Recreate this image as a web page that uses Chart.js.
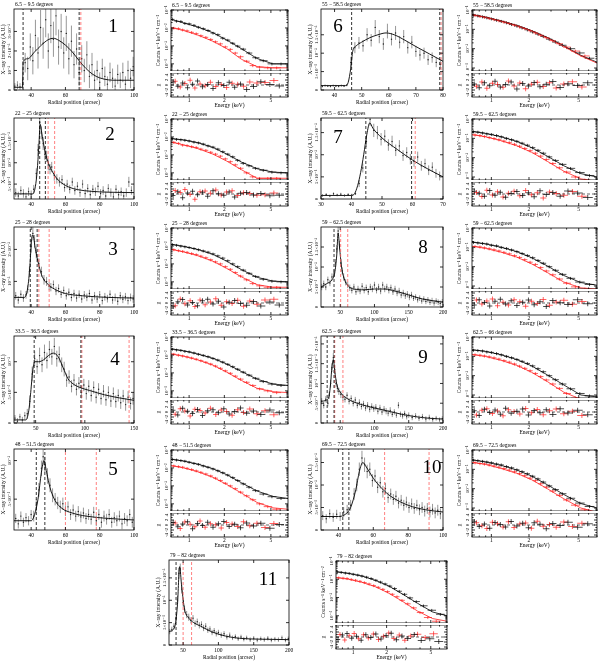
<!DOCTYPE html>
<html>
<head>
<meta charset="utf-8">
<script src="https://cdn.jsdelivr.net/npm/chart.js@4.4.1/dist/chart.umd.min.js"></script>
<style>
  html, body { margin: 0; padding: 0; background: #fff; }
  body { width: 598px; height: 665px; position: relative; overflow: hidden; }
  canvas { position: absolute; }
</style>
</head>
<body>
<script>
// ---------- titles ----------
const titles = ["6.5 − 9.5 degrees", "22 − 25 degrees", "25 − 28 degrees", "33.5 − 36.5 degrees",
  "48 − 51.5 degrees", "55 − 58.5 degrees", "59.5 − 62.5 degrees", "59 − 62.5 degrees",
  "62.5 − 66 degrees", "69.5 − 72.5 degrees", "79 − 82 degrees"];

// ---------- radial profiles: [radius arcsec, intensity (1e-3 A.U.), error] ----------
const prof1 = [[30.5,.2,.15],[32,.25,.2],[33.5,.15,.2],[35,.3,.25],[36.5,1.4,.5],[38,1.1,.6],[39.5,2.2,.7],[41,1.5,.7],[42.5,2.8,.8],[44,1.9,.8],[45.5,3.2,.9],[47,2.4,.8],[48.5,3.6,.9],[50,2.0,.9],[51.5,3.3,.9],[53,2.6,.9],[54.5,3.8,1.0],[56,2.2,.9],[57.5,3.0,.9],[59,1.9,.8],[60.5,2.9,.9],[62,1.6,.8],[63.5,2.5,.8],[65,1.3,.7],[66.5,2.1,.8],[68,.9,.7],[69.5,1.6,.7],[71,1.0,.6],[72.5,1.8,.7],[74,.7,.6],[75.5,1.3,.6],[77,.5,.5],[78.5,1.0,.5],[80,.4,.5],[81.5,1.1,.5],[83,.7,.5],[84.5,.3,.4],[86,.9,.5],[87.5,.6,.5],[89,.2,.4],[90.5,.8,.5],[92,.5,.4],[93.5,.9,.5],[95,.3,.4],[96.5,1.0,.5],[98,.6,.5],[99.5,1.2,.5]];
const fit1 = [[30,.14],[35,.14],[35.3,1.45],[38,1.6],[42,1.95],[46,2.3],[50,2.58],[53,2.65],[56,2.55],[60,2.3],[64,1.95],[68,1.5],[72,1.1],[76,.8],[80,.62],[85,.52],[90,.5],[100,.5]];
const prof2 = [[31,.3,.1],[32.5,.22,.1],[34,.35,.1],[35.5,.28,.1],[37,.2,.1],[38.5,.32,.1],[40,.25,.1],[41.5,.38,.1],[43,.75,.12],[44,1.3,.14],[45,1.95,.16],[46,1.7,.15],[47,1.45,.15],[48,1.2,.14],[49,1.15,.13],[50,.95,.13],[51,.85,.12],[52,.9,.12],[53.5,.7,.12],[55,.62,.11],[56.5,.55,.11],[58,.6,.11],[59.5,.42,.1],[61,.5,.1],[62.5,.38,.1],[64,.55,.1],[65.5,.35,.1],[67,.45,.1],[68.5,.3,.1],[70,.5,.1],[71.5,.28,.1],[73,.4,.1],[74.5,.25,.1],[76,.38,.1],[77.5,.32,.1],[79,.45,.1],[80.5,.28,.1],[82,.35,.1],[83.5,.22,.1],[85,.4,.1],[86.5,.3,.1],[88,.2,.1],[89.5,.38,.1],[91,.25,.1],[92.5,.32,.1],[94,.22,.1],[95.5,.3,.1],[97,.55,.12],[98.5,.35,.1]];
const fit2 = [[30,.27],[41,.27],[42.5,.45],[43.5,.8],[44.5,1.4],[45.3,1.9],[46,1.75],[47,1.5],[48.5,1.2],[50,1.0],[52,.82],[55,.63],[58,.52],[62,.43],[67,.37],[75,.33],[85,.31],[100,.3]];
const prof3 = [[31,.55,.12],[32.5,.42,.12],[34,.6,.12],[35.5,.48,.12],[37,.58,.12],[38,.75,.13],[39,1.3,.16],[40,2.1,.2],[41,2.5,.22],[42,2.25,.2],[43,1.9,.18],[44.5,1.55,.17],[46,1.3,.16],[47.5,1.05,.15],[49,1.0,.14],[50.5,.85,.13],[51.5,.82,.13],[53,.9,.13],[54.5,.7,.13],[56,.78,.13],[57.5,.6,.12],[59,.72,.12],[60.5,.55,.12],[62,.66,.12],[63.5,.5,.12],[65,.62,.12],[66.5,.48,.12],[68,.6,.12],[69.5,.45,.12],[71,.58,.12],[72.5,.5,.12],[74,.62,.12],[75.5,.42,.12],[77,.55,.12],[78.5,.45,.12],[80,.58,.12],[81.5,.4,.12],[83,.52,.12],[84.5,.46,.12],[86,.6,.12],[87.5,.42,.12],[89,.5,.12],[90.5,.38,.12],[92,.55,.12],[93.5,.44,.12],[95,.52,.12],[96.5,.4,.12],[98,.5,.12],[99.5,.45,.12]];
const fit3 = [[30,.5],[36,.5],[38,.8],[39.3,1.5],[40.2,2.3],[41,2.45],[42.5,2.0],[44.5,1.5],[46.5,1.15],[50,.9],[55,.72],[60,.62],[70,.55],[85,.5],[100,.48]];
const prof4 = [[29,.08,.05],[31.5,.03,.05],[34,.1,.05],[36.5,.05,.05],[39,.12,.06],[41.5,.15,.08],[44,.35,.1],[46.5,.8,.12],[49,1.05,.12],[51.5,.92,.12],[54,1.1,.13],[56.5,.95,.12],[59,1.15,.13],[61.5,1.02,.13],[64,1.2,.14],[66.5,1.08,.13],[69,1.25,.14],[71.5,1.05,.13],[74,1.12,.13],[76.5,.95,.12],[79,.88,.12],[81.5,.7,.11],[84,.75,.11],[86.5,.6,.1],[89,.7,.1],[91.5,.55,.1],[94,.65,.1],[96.5,.5,.1],[99,.62,.1],[101.5,.48,.1],[104,.6,.1],[106.5,.45,.1],[109,.58,.1],[111.5,.42,.1],[114,.55,.1],[116.5,.4,.1],[119,.52,.1],[121.5,.38,.1],[124,.5,.1],[126.5,.36,.1],[129,.48,.1],[131.5,.35,.1],[134,.45,.1],[136.5,.33,.1],[139,.44,.1],[141.5,.3,.1],[144,.42,.1],[146.5,.32,.1],[149,.4,.1]];
const fit4 = [[28,.05],[40,.05],[43,.2],[45,.5],[47,.85],[49,1.0],[53,1.0],[58,1.03],[63,1.1],[68,1.14],[73,1.08],[78,.9],[83,.72],[88,.64],[95,.58],[105,.53],[120,.46],[135,.41],[150,.37]];
const prof5 = [[31,.25,.06],[32.5,.18,.06],[34,.28,.06],[35.5,.2,.06],[37,.26,.06],[38.5,.22,.06],[40,.3,.06],[41.5,.28,.07],[43,.42,.08],[44.5,.62,.09],[46,.9,.1],[47,1.05,.11],[48,.95,.1],[49.5,.8,.1],[51,.68,.09],[52.5,.55,.09],[54,.5,.08],[55.5,.45,.08],[57,.4,.08],[58.5,.44,.08],[60,.35,.07],[61.5,.4,.07],[63,.3,.07],[64.5,.36,.07],[66,.28,.07],[67.5,.34,.07],[69,.27,.07],[70.5,.32,.07],[72,.25,.07],[73.5,.3,.07],[75,.24,.07],[76.5,.33,.07],[78,.22,.07],[79.5,.3,.07],[81,.2,.07],[82.5,.28,.07],[84,.24,.07],[85.5,.3,.07],[87,.2,.07],[88.5,.26,.07],[90,.22,.07],[91.5,.28,.07],[93,.18,.07],[94.5,.25,.07],[96,.22,.07],[97.5,.3,.07],[99,.2,.07]];
const fit5 = [[30,.22],[40,.22],[42,.3],[44,.5],[46,.85],[47.5,1.0],[49,.85],[51,.65],[54,.48],[58,.38],[64,.32],[72,.28],[85,.25],[100,.23]];
const prof6 = [[35.5,.1,.03],[36.5,.12,.03],[37.5,.11,.03],[38.5,.1,.03],[39.5,.12,.03],[40.5,.11,.03],[41.5,.1,.03],[42.5,.12,.03],[43.5,.11,.03],[44.5,.13,.03],[46,.75,.15],[47.5,1.15,.15],[49,1.28,.16],[50.5,1.2,.16],[52,1.5,.18],[53.5,1.35,.17],[55,1.7,.2],[56.5,1.45,.18],[58,1.25,.16],[59.5,1.6,.2],[61,1.38,.17],[62.5,1.55,.19],[64,1.3,.17],[65.5,1.45,.18],[67,1.15,.16],[68.5,1.3,.17],[70,1.05,.15],[71.5,.95,.15],[73,1.0,.15],[74.5,.82,.14],[76,.88,.14],[77.5,.75,.13],[79,.7,.13]];
const fit6 = [[35,.12],[44,.12],[45,.2],[46,.6],[46.7,1.05],[48,1.2],[50,1.3],[53,1.42],[56,1.5],[59,1.55],[62,1.5],[66,1.35],[70,1.18],[75,.98],[80,.78]];
const prof7 = [[30.5,.08,.03],[31.7,.1,.03],[32.9,.07,.03],[34.1,.12,.03],[35.3,.09,.03],[36.5,.11,.03],[37.7,.08,.03],[38.9,.1,.03],[40.1,.09,.03],[41.3,.12,.03],[42.5,.35,.08],[43.7,.7,.1],[44.9,1.3,.12],[46.1,1.8,.15],[47.3,1.55,.15],[48.5,1.5,.15],[49.7,1.35,.14],[50.9,1.42,.14],[52.1,1.22,.13],[53.3,1.3,.13],[54.5,1.1,.13],[55.7,1.2,.13],[56.9,.98,.12],[58.1,1.05,.12],[59.3,.9,.12],[60.5,.85,.12],[61.7,.95,.12],[62.9,.75,.11],[64.1,.8,.11],[65.3,.65,.11],[66.5,.72,.11],[67.7,.58,.1],[68.9,.52,.1]];
const fit7 = [[30,.08],[40,.08],[41,.12],[42,.3],[43,.6],[44,1.0],[45,1.45],[46,1.72],[47,1.6],[50,1.38],[55,1.12],[60,.88],[65,.68],[70,.5]];
const prof8 = [[23,.5,.08],[26,.58,.08],[29,.5,.08],[32,.68,.08],[35,.6,.08],[38,.75,.09],[41,.85,.09],[43,1.1,.1],[45,1.45,.1],[47,1.9,.12],[49,1.55,.11],[51,1.1,.1],[53,.9,.09],[55,.75,.09],[58,.62,.08],[61,.55,.08],[64,.48,.08],[67,.42,.08],[70,.5,.08],[73,.38,.08],[76,.45,.08],[79,.4,.08],[82,.52,.08],[85,.42,.08],[88,.48,.08],[91,.38,.08],[94,.5,.08],[97,.45,.08],[100,.55,.08],[103,.42,.08],[106,.5,.08],[109,.4,.08],[112,.55,.08],[115,.45,.08],[118,.5,.08],[121,.42,.08],[124,.48,.08],[127,.38,.08],[130,.45,.08],[133,.35,.08],[136,.4,.08],[139,.3,.08],[142,.35,.08],[145,.28,.08],[148,.32,.08],[151,.25,.08],[154,.3,.08],[157,.22,.07],[160,.25,.07],[163,.18,.07],[166,.22,.07],[169,.15,.07],[172,.2,.07],[175,.14,.07],[178,.18,.07],[181,.12,.07],[184,.16,.07],[187,.1,.07],[190,.15,.07],[193,.12,.07],[196,.09,.07],[199,.13,.07]];
const fit8 = [[22,.5],[30,.58],[38,.68],[42,.85],[45,1.3],[47,1.85],[49,1.5],[52,1.0],[56,.7],[62,.52],[70,.45],[85,.43],[100,.45],[115,.45],[130,.4],[150,.3],[170,.2],[200,.12]];
const prof9 = [[23,.55,.08],[26,.45,.08],[29,.6,.08],[32,.5,.08],[34,.7,.09],[36,1.0,.1],[38,1.4,.11],[40,1.65,.12],[42,1.35,.11],[44,1.0,.1],[46,.88,.1],[48,.8,.09],[51,.72,.09],[54,.65,.09],[57,.6,.08],[60,.7,.08],[63,.55,.08],[66,.62,.08],[69,.5,.08],[72,.58,.08],[75,.45,.08],[78,.52,.08],[81,.42,.08],[84,.48,.08],[87,.38,.08],[90,.45,.08],[93,.35,.08],[96,.42,.08],[99,.36,.08],[102,.4,.08],[105,.3,.08],[108,.38,.08],[111,.28,.08],[114,.35,.08],[117,.3,.08],[120,.25,.08],[123,.32,.08],[126,.22,.07],[129,.28,.07],[132,.2,.07],[135,.45,.08],[138,.22,.07],[141,.18,.07],[144,.24,.07],[147,.16,.07],[150,.2,.07],[155,.14,.07],[160,.18,.07],[165,.12,.07],[170,.16,.07],[175,.1,.07],[180,.14,.07],[185,.09,.06],[190,.12,.06],[195,.08,.06],[199,.11,.06]];
const fit9 = [[22,.55],[30,.58],[34,.7],[36,1.0],[38,1.42],[40,1.6],[42,1.32],[45,.98],[50,.78],[60,.62],[80,.47],[100,.38],[120,.3],[140,.22],[160,.16],[180,.12],[200,.1]];
const prof10 = [[31,.32,.1],[33,.25,.1],[35,.36,.1],[37,.28,.1],[39,.35,.1],[41,.3,.1],[43,.4,.11],[45,.45,.11],[47,.55,.12],[49,.8,.13],[50.5,1.0,.14],[52,1.35,.15],[53.5,1.6,.16],[55,1.45,.16],[56.5,1.3,.15],[58,1.35,.15],[59.5,1.1,.14],[61,1.2,.14],[62.5,.95,.13],[64,1.05,.13],[65.5,.85,.13],[67,.92,.13],[68.5,.72,.12],[70,.8,.12],[71.5,.68,.12],[73,.75,.12],[74.5,.6,.12],[76,.66,.12],[77.5,.55,.12],[79,.62,.12],[80.5,.5,.12],[82,.58,.12],[83.5,.48,.12],[85,.55,.12],[86.5,.45,.12],[88,.5,.12],[89.5,.42,.12],[91,.48,.12],[92.5,.4,.12],[94,.46,.12],[95.5,.38,.12],[97,.44,.12],[98.5,.36,.12]];
const fit10 = [[30,.3],[40,.3],[44,.35],[47,.5],[50,.9],[52,1.3],[54,1.5],[56,1.4],[60,1.15],[65,.92],[70,.75],[80,.55],[90,.45],[100,.4]];
const prof11 = [[31,.3,.06],[34,.35,.06],[37,.42,.07],[40,.6,.08],[42,1.0,.1],[44,1.6,.12],[46,1.7,.12],[48,1.25,.1],[50,.95,.09],[52,.8,.08],[55,.68,.08],[58,.62,.08],[61,.55,.07],[64,.6,.07],[67,.48,.07],[70,.52,.07],[73,.44,.07],[76,.46,.07],[79,.38,.07],[82,.42,.07],[85,.33,.06],[88,.36,.06],[91,.28,.06],[94,.32,.06],[97,.25,.06],[100,.28,.06],[104,.22,.06],[108,.25,.06],[112,.18,.06],[116,.22,.06],[120,.16,.05],[124,.19,.05],[128,.14,.05],[132,.18,.05],[136,.13,.05],[140,.16,.05],[145,.12,.05],[150,.15,.05],[155,.11,.05],[160,.14,.05],[165,.12,.05],[170,.15,.05],[175,.11,.05],[180,.13,.05],[185,.12,.05],[190,.16,.05],[195,.11,.05],[199,.14,.05]];
const fit11 = [[30,.3],[38,.4],[42,.9],[45,1.75],[48,1.3],[52,.8],[58,.6],[65,.5],[75,.42],[90,.3],[110,.2],[130,.15],[160,.13],[200,.12]];

// dashed region boundaries (arcsec)
const vlBlack = [[35.3,68],[45,48.3],[39.5,43.5],[48.5,96],[43,48],[46.3,78.8],[44.7,59.7],[41],[31,41],[42.5,46],[40]];
const vlRed   = [[69],[49.9,53.7],[44.5,50.5],[97,145],[60,78],[79.3],[60.9],[50.7,61],[42,54],[66.5,92],[50,62]];

// profile axis ticks (values in 1e-3 A.U.)
const profYTicks = [[0,1,2,3],[0.5,1,1.5],[1,2],[0,0.5,1],[0.5,1],[0,0.5,1,1.5],[0,0.5,1,1.5],[0,0.5,1,1.5],[0,0.5,1,1.5,2],[0,0.5,1,1.5],[0,0.5,1,1.5]];
const profYLabels = {0:"0",0.5:"5×10⁻⁴",1:"10⁻³",1.5:"1.5×10⁻³",2:"2×10⁻³",3:"3×10⁻³"};
const profXTicks = [[40,60,80,100],[40,60,80,100],[40,60,80,100],[50,100,150],[40,60,80,100],[40,50,60,70,80],[30,40,50,60,70],[50,100,150,200],[50,100,150,200],[40,60,80,100],[50,100,150,200]];

// ---------- spectra ----------
const specEB = [0.72,0.78,0.85,0.92,1.0,1.1,1.2,1.32,1.45,1.6,1.76,1.94,2.14,2.36,2.6,2.9,3.25,3.7,4.3,5.1,6.1];
const specER = [0.74,0.81,0.88,0.96,1.05,1.15,1.26,1.39,1.53,1.68,1.85,2.04,2.25,2.48,2.75,3.1,3.5,4.0,4.7,5.6];
const modE = [0.7,0.9,1.2,1.6,2.1,2.8,3.8,5.2,7.0];

const specB = [
  [0.030,0.024,0.023,0.018,0.017,0.014,0.011,0.0091,0.0072,0.0052,0.0042,0.0027,0.0021,0.0014,0.00097,0.00066,0.0004,0.00022,0.00015,0.0001,0.0001],
  [0.008,0.0074,0.007,0.0066,0.006,0.0052,0.0047,0.004,0.0032,0.0027,0.0021,0.0015,0.0011,0.00078,0.0005,0.00034,0.00025,0.00018,0.00014,0.00011,0.0001],
  [0.012,0.011,0.0098,0.009,0.0082,0.0072,0.0062,0.0053,0.0045,0.0036,0.0028,0.0021,0.0015,0.001,0.0007,0.00045,0.0003,0.0002,0.00014,0.00011,0.0001],
  [0.021,0.019,0.018,0.016,0.015,0.013,0.011,0.0095,0.008,0.0064,0.0052,0.004,0.003,0.0022,0.0016,0.0011,0.00075,0.0005,0.00033,0.00024,0.0002],
  [0.03,0.028,0.026,0.024,0.021,0.018,0.016,0.013,0.011,0.0088,0.007,0.0054,0.004,0.0029,0.002,0.0013,0.00085,0.00055,0.00035,0.00025,0.0002],
  [0.055,0.05,0.045,0.04,0.035,0.03,0.026,0.022,0.018,0.015,0.012,0.0095,0.0074,0.0057,0.0043,0.0031,0.0022,0.0015,0.001,0.0006,0.00032],
  [0.022,0.021,0.019,0.017,0.016,0.014,0.012,0.01,0.0085,0.007,0.0056,0.0044,0.0033,0.0024,0.0017,0.0011,0.00072,0.00045,0.00028,0.00017,0.00012],
  [0.018,0.017,0.016,0.015,0.013,0.012,0.01,0.0088,0.0074,0.006,0.0048,0.0038,0.0029,0.0021,0.0015,0.001,0.00065,0.0004,0.00025,0.00016,0.00012],
  [0.021,0.02,0.019,0.017,0.016,0.014,0.012,0.01,0.0085,0.0069,0.0055,0.0043,0.0032,0.0023,0.0016,0.001,0.00062,0.00037,0.00021,0.00012,0.00009],
  [0.03,0.028,0.026,0.024,0.022,0.019,0.017,0.014,0.012,0.0095,0.0076,0.0059,0.0044,0.0032,0.0022,0.0014,0.0009,0.00055,0.00032,0.00018,0.00012],
  [0.025,0.024,0.022,0.021,0.019,0.017,0.015,0.013,0.011,0.0088,0.007,0.0055,0.0042,0.0031,0.0022,0.0015,0.00095,0.0006,0.00035,0.0002,0.00012]
];
const specR = [
  [0.0098,0.0092,0.0078,0.0069,0.0057,0.0048,0.0037,0.003,0.0023,0.0017,0.0013,0.00088,0.00064,0.0004,0.00025,0.00014,0.00008,0.000065,0.00006,0.00006],
  [0.005,0.0044,0.0035,0.0033,0.0029,0.0026,0.0021,0.0018,0.0014,0.0011,0.00085,0.0006,0.00042,0.00028,0.00018,0.0001,0.00006,0.00005,0.00005,0.00005],
  [0.0062,0.0055,0.005,0.0044,0.0038,0.0033,0.0027,0.0022,0.0017,0.0013,0.001,0.0007,0.0005,0.00033,0.00021,0.00013,0.00008,0.00006,0.00005,0.00005],
  [0.011,0.0098,0.0088,0.0078,0.0068,0.0058,0.0048,0.0039,0.0031,0.0024,0.0018,0.0013,0.00095,0.00066,0.00045,0.0003,0.0002,0.00013,0.0001,0.00008],
  [0.013,0.012,0.011,0.0095,0.0082,0.0069,0.0057,0.0046,0.0036,0.0027,0.002,0.0014,0.001,0.0007,0.00045,0.00028,0.00017,0.0001,0.00007,0.00005],
  [0.053,0.047,0.042,0.037,0.032,0.028,0.024,0.02,0.0165,0.0135,0.011,0.0085,0.0066,0.005,0.0037,0.0026,0.0018,0.0012,0.00075,0.00042],
  [0.015,0.014,0.0125,0.011,0.0098,0.0085,0.0072,0.006,0.0049,0.0039,0.003,0.0023,0.0017,0.0012,0.0008,0.0005,0.0003,0.00018,0.0001,0.00007],
  [0.011,0.0105,0.0095,0.0085,0.0075,0.0065,0.0055,0.0046,0.0037,0.003,0.0023,0.0017,0.0013,0.0009,0.0006,0.00038,0.00023,0.00014,0.00009,0.00007],
  [0.012,0.0115,0.0105,0.0095,0.0084,0.0072,0.006,0.005,0.004,0.0031,0.0024,0.0018,0.0013,0.0009,0.0006,0.00037,0.00022,0.00012,0.00007,0.00005],
  [0.022,0.02,0.019,0.017,0.015,0.013,0.011,0.0092,0.0075,0.006,0.0047,0.0035,0.0026,0.0018,0.0012,0.00075,0.00045,0.00026,0.00014,0.00008],
  [0.012,0.0115,0.011,0.0098,0.0088,0.0077,0.0066,0.0055,0.0045,0.0036,0.0028,0.0021,0.0015,0.0011,0.0007,0.00045,0.00027,0.00015,0.00008,0.00005]
];
const modB = [
  [.03,.019,.011,.0054,.0021,.0007,.0002,.0001,.0001],
  [.0082,.0068,.0047,.0026,.0011,.0004,.00017,.00011,.0001],
  [.0125,.0095,.0062,.0034,.0014,.00048,.00018,.00011,.0001],
  [.022,.017,.011,.0065,.0031,.0012,.00045,.00024,.0002],
  [.031,.024,.016,.009,.0042,.0015,.00052,.00026,.0002],
  [.058,.043,.027,.016,.0085,.0038,.0014,.00045,.0002],
  [.023,.018,.012,.0069,.0033,.0012,.00038,.00015,.0001],
  [.019,.015,.01,.006,.0029,.0011,.00035,.00015,.00011],
  [.022,.018,.012,.0068,.0032,.0011,.00033,.0001,.00008],
  [.031,.024,.016,.0092,.0045,.0016,.0005,.00017,.0001],
  [.026,.021,.015,.0085,.0042,.0015,.00048,.00016,.0001]
];
const modR = [
  [.0105,.0072,.0039,.0018,.0007,.00018,.00007,.00006,.00006],
  [.0052,.0036,.0022,.0011,.00045,.00015,.00005,.00005,.00005],
  [.0065,.0046,.0028,.0014,.00056,.00019,.00007,.00005,.00005],
  [.0115,.0085,.0052,.0027,.0011,.00038,.00014,.00009,.00008],
  [.0135,.01,.006,.003,.0012,.0004,.00012,.00006,.00005],
  [.057,.042,.026,.0155,.0082,.0036,.0013,.00042,.00018],
  [.0155,.012,.0075,.0041,.0019,.00065,.0002,.00008,.00006],
  [.0115,.0088,.0056,.0031,.0014,.0005,.00016,.00008,.00007],
  [.0125,.0098,.0062,.0034,.0015,.0005,.00014,.00006,.00005],
  [.023,.018,.011,.0062,.0029,.001,.0003,.0001,.00006],
  [.0125,.01,.0068,.0038,.0017,.0006,.00018,.00007,.00005]
];

// ---------- residuals (chi) ----------
const resEB = [0.73,0.8,0.88,0.97,1.07,1.18,1.3,1.44,1.6,1.78,1.98,2.2,2.45,2.75,3.1,3.55,4.1,4.9,5.9];
const resER = [0.76,0.84,0.92,1.02,1.12,1.24,1.37,1.52,1.69,1.88,2.09,2.33,2.6,2.92,3.3,3.8,4.45,5.3];
const resB = [
  [1.2,-0.5,0.8,-1.1,0.3,1.6,-0.7,0.2,-1.4,0.9,-0.2,1.1,-0.9,0.4,-1.8,-0.6,1.3,0.2,-0.4],
  [-0.6,0.9,-1.5,0.4,1.1,-0.3,0.7,-0.9,1.3,0.1,-0.5,0.8,-1.2,0.3,0.6,-0.4,0.2,-0.7,-0.5],
  [-1.3,0.5,1.4,-0.8,0.2,-1.1,0.9,1.5,-0.4,0.7,-1.6,0.3,1.0,-0.2,-0.9,0.6,-1.2,0.4,-0.8],
  [0.7,-1.2,1.5,0.3,-0.6,1.0,-1.4,0.5,0.9,-0.3,1.3,-0.8,0.2,1.6,-0.5,0.4,-1.0,0.8,-0.3],
  [1.0,-0.7,0.4,1.3,-1.5,0.6,-0.2,1.1,-0.9,0.5,1.4,-0.6,0.3,-1.1,0.8,-0.4,0.7,-1.3,0.2],
  [0.4,-1.1,0.9,-0.3,1.5,-0.8,0.2,1.2,-1.6,0.6,-0.4,1.0,-0.7,0.3,1.4,-1.0,0.5,-0.2,0.9],
  [1.1,0.3,-0.9,1.4,-0.5,0.7,-1.3,0.2,1.0,-0.6,0.5,-1.1,1.3,-0.2,0.6,-0.9,1.2,0.4,-1.4],
  [-0.8,1.3,0.2,-1.2,0.7,1.5,-0.4,0.9,-1.0,0.3,1.2,-0.7,0.5,-1.4,1.0,0.1,-0.6,1.3,-0.3],
  [0.5,-1.4,1.1,-0.2,0.8,-0.9,1.5,-0.5,0.3,1.2,-1.2,0.6,-0.3,0.9,-1.0,1.3,-0.4,0.7,-1.1],
  [1.3,-0.6,0.4,-1.3,1.0,0.2,-0.8,1.4,-0.4,0.7,-1.1,0.9,0.3,-1.5,0.6,-0.2,1.1,-0.9,0.5],
  [-1.0,0.8,1.4,-0.5,0.3,-1.3,0.9,-0.2,1.2,-0.8,0.6,1.5,-1.1,0.4,-0.6,1.0,-1.4,-0.7,-1.8]
];
const resR = [
  [1.5,-0.8,0.6,1.9,-1.2,0.4,-0.3,1.1,-0.6,0.2,-1.0,0.7,0.3,-0.5,1.2,0.8,1.0,1.8],
  [1.4,0.6,1.8,-0.2,-2.1,0.9,1.2,0.3,1.6,-0.4,0.8,1.3,-0.6,0.5,0.2,-0.5,-0.3,0.4],
  [-1.1,1.6,-0.3,0.9,-1.4,1.2,-0.7,0.4,1.7,-0.9,0.5,-0.2,1.1,-1.3,0.8,-0.5,1.2,1.5],
  [-0.9,1.3,0.4,-1.6,1.1,0.6,-0.4,1.5,-1.0,0.8,0.2,-1.3,0.9,-0.2,1.2,-0.7,0.5,-1.1],
  [0.8,-1.4,1.2,0.3,-0.7,1.6,-0.9,0.5,0.1,-1.2,1.0,0.4,-0.6,1.3,-0.3,0.7,-1.0,0.6],
  [-0.5,1.2,-1.3,0.7,0.2,-0.9,1.6,-0.4,0.8,-1.5,0.3,1.1,-0.6,0.9,-1.2,0.4,1.3,-0.8],
  [0.6,-1.0,1.5,-0.4,0.9,-1.2,0.3,1.1,-0.7,1.4,-0.3,0.5,-1.6,0.8,0.2,-0.5,1.0,-0.9],
  [1.2,-0.4,0.8,1.6,-1.1,0.3,-0.8,1.3,0.5,-1.3,0.7,-0.2,1.4,-0.9,0.4,1.1,-0.5,0.6],
  [-1.2,0.7,1.3,-0.6,0.4,-1.5,0.9,0.2,-0.8,1.4,-0.3,1.0,-1.1,0.5,1.2,-0.7,0.3,-1.4],
  [0.9,-0.3,-1.4,1.1,0.5,-0.8,1.3,-1.0,0.4,0.8,-1.3,1.5,-0.5,0.2,-0.9,1.2,-0.6,0.7],
  [1.0,-1.2,0.5,1.4,-0.7,0.9,-0.4,1.2,-1.0,0.3,1.6,-0.6,0.8,-1.3,0.4,1.1,-0.2,1.3]
];
const specYTicks = [1e-4, 1e-3, 1e-2, 1e-1];
const specYLabels = ["10⁻⁴", "10⁻³", "10⁻²", "10⁻¹"];
const specXTicks = [1, 2, 5];
const specXMinor = [0.7, 0.8, 0.9, 3, 4, 6, 7];
const resYTicks = [-4, -2, 0, 2, 4];
const resYMinor = [-3, -1, 1, 3];

const profs = [prof1,prof2,prof3,prof4,prof5,prof6,prof7,prof8,prof9,prof10,prof11];
const fits = [fit1,fit2,fit3,fit4,fit5,fit6,fit7,fit8,fit9,fit10,fit11];

// ---------- layout (page pixels) ----------
const rowTop = [9, 118, 227, 336, 449];
const rowBot = [90, 199, 307, 423, 530];
const profRange = [
  {x:[30,100], y:[0,4.15]}, {x:[30,100], y:[0.15,2.05]}, {x:[30,100], y:[0.2,2.7]}, {x:[28,150], y:[0,1.42]},
  {x:[30,100], y:[0.1,1.15]}, {x:[35,80], y:[0,2.2]}, {x:[30,70], y:[0,1.83]}, {x:[22,200], y:[0,2.0]},
  {x:[22,200], y:[0,2.2]}, {x:[30,100], y:[0,1.8]}, {x:[30,200], y:[0,1.9]}
];
const numPos = [[113,27],[110,135],[113,250],[115,360],[113,470],[338,27],[338,138],[423,248],[423,358],[432,468],[268,580]];

function profFrame(k) {
  if (k < 5) return [14, rowTop[k], 135, rowBot[k]];
  if (k < 10) return [321, rowTop[k - 5], 444, rowBot[k - 5]];
  return [169, 560, 290, 645];
}
function specFrame(k) {
  let l, r, t, b;
  if (k < 5) { l = 171; r = 288; t = rowTop[k] + 1; b = rowTop[k] + 88; }
  else if (k < 10) { l = 472; r = 597; t = rowTop[k - 5] + 1; b = rowTop[k - 5] + 88; }
  else { l = 336; r = 447; t = 561; b = 649; }
  const mb = t + Math.round((b - t) * 0.7);
  return { main: [l, t, r, mb], res: [l, mb + 2, r, b] };
}

const FONT = "'Liberation Serif','DejaVu Serif',serif";
const RED = '#ff2020';
const PINK = '#ff6060';

function addCanvas(frame, m) {
  const c = document.createElement('canvas');
  const w = frame[2] - frame[0] + m.l + m.r;
  const h = frame[3] - frame[1] + m.t + m.b;
  c.width = w; c.height = h;
  c.style.left = (frame[0] - m.l) + 'px';
  c.style.top = (frame[1] - m.t) + 'px';
  c.style.width = w + 'px'; c.style.height = h + 'px';
  document.body.appendChild(c);
  return c;
}

// error bars / crosses drawn through the chart's scales
const errPlugin = {
  id: 'errbars',
  beforeDatasetsDraw(chart) {
    const ctx = chart.ctx, a = chart.chartArea, ys = chart.scales.y;
    ctx.save();
    ctx.beginPath();
    ctx.rect(a.left, a.top, a.right - a.left, a.bottom - a.top);
    ctx.clip();
    chart.data.datasets.forEach((ds, i) => {
      if (!ds.err) return;
      const pts = chart.getDatasetMeta(i).data;
      ctx.strokeStyle = ds.errColor;
      ctx.lineWidth = ds.errWidth || 0.7;
      ctx.beginPath();
      ds.data.forEach((d, j) => {
        const p = pts[j];
        if (!p) return;
        let lo, hi;
        if (ds.err === 'abs') { lo = d.y - ds.errVal; hi = d.y + ds.errVal; }
        else if (ds.err === 'frac') { lo = d.y * (1 - ds.errVal); hi = d.y * (1 + ds.errVal); }
        else { lo = d.y - d.e; hi = d.y + d.e; }
        ctx.moveTo(p.x, ys.getPixelForValue(lo));
        ctx.lineTo(p.x, ys.getPixelForValue(hi));
        if (ds.cross) {
          const prev = pts[j - 1], next = pts[j + 1];
          const hl = prev ? (p.x - prev.x) / 2 : (next.x - p.x) / 2;
          const hr = next ? (next.x - p.x) / 2 : hl;
          ctx.moveTo(p.x - hl, p.y);
          ctx.lineTo(p.x + hr, p.y);
        }
      });
      ctx.stroke();
    });
    ctx.restore();
  }
};

// box frame, inward ticks, rotated y labels, panel title and number
const framePlugin = {
  id: 'frame',
  afterDraw(chart, args, o) {
    if (!o || !o.on) return;
    const ctx = chart.ctx, a = chart.chartArea, xs = chart.scales.x, ys = chart.scales.y;
    ctx.save();
    ctx.strokeStyle = '#000';
    ctx.lineWidth = 0.8;
    ctx.strokeRect(a.left, a.top, a.right - a.left, a.bottom - a.top);
    ctx.beginPath();
    const tx = (vals, len) => vals.forEach(v => {
      const p = xs.getPixelForValue(v);
      if (p < a.left - 0.5 || p > a.right + 0.5) return;
      ctx.moveTo(p, a.bottom); ctx.lineTo(p, a.bottom - len);
      ctx.moveTo(p, a.top); ctx.lineTo(p, a.top + len);
    });
    const ty = (vals, len) => vals.forEach(v => {
      const p = ys.getPixelForValue(v);
      if (p < a.top - 0.5 || p > a.bottom + 0.5) return;
      ctx.moveTo(a.left, p); ctx.lineTo(a.left + len, p);
      ctx.moveTo(a.right, p); ctx.lineTo(a.right - len, p);
    });
    tx(o.xMajor || [], 3); tx(o.xMinor || [], 1.6);
    ty(o.yMajor || [], 3); ty(o.yMinor || [], 1.6);
    ctx.stroke();
    ctx.fillStyle = '#000';
    ctx.font = '5px ' + FONT;
    (o.yMajor || []).forEach((v, i) => {
      const p = ys.getPixelForValue(v);
      if (p < a.top - 1 || p > a.bottom + 1) return;
      ctx.save();
      ctx.translate(a.left - 2, p);
      ctx.rotate(-Math.PI / 2);
      ctx.textAlign = 'center';
      ctx.textBaseline = 'bottom';
      ctx.fillText(o.yLabels[i], 0, 0);
      ctx.restore();
    });
    if (o.title) {
      ctx.font = '5.5px ' + FONT;
      ctx.textAlign = 'left';
      ctx.textBaseline = 'bottom';
      ctx.fillText(o.title, a.left + 1, a.top - 1.5);
    }
    if (o.num) {
      ctx.font = '19px ' + FONT;
      ctx.textAlign = 'center';
      ctx.textBaseline = 'middle';
      ctx.fillText(o.num, a.left + o.numDx, a.top + o.numDy);
    }
    ctx.restore();
  }
};
Chart.register(errPlugin, framePlugin);

function axisX(type, min, max, ticks, m, title, pad) {
  return {
    type, min, max,
    afterBuildTicks: s => { s.ticks = ticks.map(v => ({ value: v })); },
    afterFit: s => { s.height = m.b; s.paddingLeft = 0; s.paddingRight = 0; },
    grid: { display: false, drawTicks: false },
    border: { display: false },
    ticks: { display: !!title, font: { family: FONT, size: 5.5 }, color: '#000', padding: pad, maxRotation: 0, autoSkip: false,
             callback: v => String(v) },
    title: { display: !!title, text: title, font: { family: FONT, size: 5.5 }, color: '#000', padding: { top: 0, bottom: 1 } }
  };
}
function axisY(type, min, max, m, title) {
  return {
    type, min, max,
    afterFit: s => { s.width = m.l; s.paddingTop = 0; s.paddingBottom = 0; },
    grid: { display: false, drawTicks: false },
    border: { display: false },
    ticks: { display: false },
    title: { display: true, text: title, font: { family: FONT, size: 5.5 }, color: '#000', padding: { top: 0, bottom: 0 } }
  };
}
function baseOpts(m, scales, frame) {
  return {
    responsive: false, animation: false, devicePixelRatio: 1,
    events: [],
    layout: { padding: { left: 0, top: m.t, right: m.r, bottom: 0 } },
    plugins: { legend: { display: false }, tooltip: { enabled: false }, frame },
    scales
  };
}
function vline(x, y0, y1, color) {
  return { data: [{ x, y: y0 }, { x, y: y1 }], borderColor: color, borderWidth: 0.8, borderDash: [3, 2], pointRadius: 0 };
}

// ---------- radial profiles ----------
function drawProfile(k) {
  const fr = profFrame(k), rg = profRange[k];
  const m = { l: 14, t: 9, r: 3, b: 17 };
  const cv = addCanvas(fr, m);
  const [y0, y1] = rg.y;
  const ds = [];
  vlBlack[k].forEach(v => ds.push(vline(v, y0, y1, '#000')));
  vlRed[k].forEach(v => ds.push(vline(v, y0, y1, PINK)));
  ds.push({ data: profs[k].map(p => ({ x: p[0], y: p[1], e: p[2] })), showLine: false,
            pointRadius: 0.7, pointBackgroundColor: '#222', pointBorderWidth: 0,
            err: 'prof', errColor: '#8c8c8c', errWidth: 0.9 });
  ds.push({ data: fits[k].map(p => ({ x: p[0], y: p[1] })), borderColor: '#000', borderWidth: 0.9,
            pointRadius: 0, cubicInterpolationMode: 'monotone' });
  new Chart(cv, {
    type: 'line',
    data: { datasets: ds },
    options: baseOpts(m, {
      x: axisX('linear', rg.x[0], rg.x[1], profXTicks[k], m, 'Radial position (arcsec)', 2),
      y: axisY('linear', y0, y1, m, 'X−ray intensity (A.U.)')
    }, {
      on: true, title: titles[k],
      xMajor: profXTicks[k], yMajor: profYTicks[k], yLabels: profYTicks[k].map(v => profYLabels[v]),
      num: String(k + 1), numDx: numPos[k][0] - fr[0], numDy: numPos[k][1] - fr[1]
    })
  });
}

// ---------- spectra + residuals ----------
function logMinors(lo, hi) {
  const out = [];
  for (let d = lo; d < hi; d++) for (let j = 2; j <= 9; j++) out.push(j * Math.pow(10, d));
  return out;
}
function drawSpectrum(k) {
  const f = specFrame(k);
  const m1 = { l: 16, t: 9, r: 2, b: 0 };
  const cv1 = addCanvas(f.main, m1);
  const ymin = k >= 5 && k < 10 ? 7e-5 : 4e-5;
  const crossB = { err: 'frac', errVal: 0.18, cross: true, errColor: '#000', errWidth: 0.7 };
  const crossR = { err: 'frac', errVal: 0.18, cross: true, errColor: RED, errWidth: 0.7 };
  new Chart(cv1, {
    type: 'line',
    data: { datasets: [
      Object.assign({ data: specER.map((e, i) => ({ x: e, y: specR[k][i] })), showLine: false, pointRadius: 0 }, crossR),
      Object.assign({ data: specEB.map((e, i) => ({ x: e, y: specB[k][i] })), showLine: false, pointRadius: 0 }, crossB),
      { data: modE.map((e, i) => ({ x: e, y: modR[k][i] })), borderColor: RED, borderWidth: 0.8, pointRadius: 0 },
      { data: modE.map((e, i) => ({ x: e, y: modB[k][i] })), borderColor: '#000', borderWidth: 0.8, pointRadius: 0 }
    ] },
    options: baseOpts(m1, {
      x: axisX('logarithmic', 0.7, 7, specXTicks, m1, '', 0),
      y: axisY('logarithmic', ymin, 0.1, m1, 'Counts s⁻¹ keV⁻¹ cm⁻²')
    }, {
      on: true, title: titles[k], xMajor: specXTicks, xMinor: specXMinor,
      yMajor: specYTicks, yLabels: specYLabels, yMinor: logMinors(-5, -1)
    })
  });

  const m2 = { l: 16, t: 0, r: 2, b: 13 };
  const cv2 = addCanvas(f.res, m2);
  new Chart(cv2, {
    type: 'line',
    data: { datasets: [
      { data: [{ x: 0.7, y: 0 }, { x: 7, y: 0 }], borderColor: '#000', borderWidth: 0.6, borderDash: [3, 2], pointRadius: 0 },
      Object.assign({ data: resER.map((e, i) => ({ x: e, y: resR[k][i] })), showLine: false, pointRadius: 0 },
                    { err: 'abs', errVal: 1, cross: true, errColor: RED, errWidth: 0.7 }),
      Object.assign({ data: resEB.map((e, i) => ({ x: e, y: resB[k][i] })), showLine: false, pointRadius: 0 },
                    { err: 'abs', errVal: 1, cross: true, errColor: '#000', errWidth: 0.7 })
    ] },
    options: baseOpts(m2, {
      x: axisX('logarithmic', 0.7, 7, specXTicks, m2, 'Energy (keV)', 0.5),
      y: axisY('linear', -4.8, 4.8, m2, 'χ')
    }, {
      on: true, xMajor: specXTicks, xMinor: specXMinor,
      yMajor: resYTicks, yLabels: resYTicks.map(String), yMinor: resYMinor
    })
  });
}

for (let k = 0; k < 11; k++) { drawProfile(k); drawSpectrum(k); }
</script>
</body>
</html>
